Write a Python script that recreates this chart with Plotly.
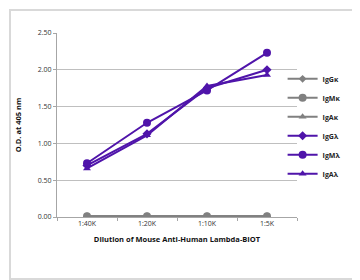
import plotly.graph_objects as go

categories = ["1:40K", "1:20K", "1:10K", "1:5K"]
series_names = ["IgGκ", "IgMκ", "IgAκ", "IgGλ", "IgMλ", "IgAλ"]
igg_k = [0.01, 0.01, 0.01, 0.01]
igm_k = [0.01, 0.01, 0.01, 0.01]
iga_k = [0.01, 0.01, 0.01, 0.01]
igg_l = [0.70, 1.13, 1.75, 2.00]
igm_l = [0.73, 1.28, 1.72, 2.23]
iga_l = [0.66, 1.11, 1.78, 1.93]
y_ticks = [0, 0.5, 1.0, 1.5, 2.0, 2.5]

GRAY = "#808080"
PURPLE = "#4f14aa"

fig = go.Figure()
specs = [
    (igg_k, GRAY, "diamond", 6),
    (igm_k, GRAY, "circle", 8),
    (iga_k, GRAY, "triangle-up", 7),
    (igg_l, PURPLE, "diamond", 7),
    (igm_l, PURPLE, "circle", 8),
    (iga_l, PURPLE, "triangle-up", 7),
]
for name, (vals, col, sym, sz) in zip(series_names, specs):
    fig.add_trace(go.Scatter(
        x=categories, y=vals, name="<b>" + name + "</b>", mode="lines+markers",
        line=dict(color=col, width=2),
        marker=dict(color=col, symbol=sym, size=sz),
    ))

L, T, W, H = 49, 25, 240, 184
fig.update_layout(
    width=360, height=280,
    margin=dict(l=L, r=360 - L - W, t=T, b=280 - T - H, autoexpand=False),
    paper_bgcolor="white", plot_bgcolor="white",
    font=dict(family="Open Sans, Liberation Sans, sans-serif", size=7, color="#333333"),
    showlegend=True,
    legend=dict(xref="paper", yref="paper", x=0.94, xanchor="left",
                y=0.83, yanchor="top",
                font=dict(size=7, color="#222222", family="Open Sans, sans-serif"),
                itemwidth=30, tracegroupgap=0, bgcolor="rgba(0,0,0,0)"),
    xaxis=dict(
        type="category", range=[-0.5, 3.5], automargin=False,
        showline=True, linecolor="#a6a6a6", linewidth=1,
        ticks="outside", tickson="boundaries", ticklen=3, tickcolor="#a6a6a6",
        showgrid=False,
        title=dict(text="<b>Dilution of Mouse Anti-Human Lambda-BIOT</b>", standoff=9,
                   font=dict(size=7.5, color="#111111")),
    ),
    yaxis=dict(
        range=[0, 2.5], tickvals=y_ticks, tickformat=".2f", automargin=False,
        showline=True, linecolor="#a6a6a6", linewidth=1,
        ticks="outside", ticklen=3, tickcolor="#a6a6a6",
        showgrid=True, gridcolor="#bfbfbf", gridwidth=1, zeroline=False,
        title=dict(text="<b>O.D. at 405 nm</b>",
                   font=dict(size=7.5, color="#111111")),
    ),
    shapes=[dict(type="rect", xref="paper", yref="paper",
                 x0=(2 - L) / W, x1=1.5, y0=-62 / H, y1=1 + (T - 2) / H,
                 line=dict(color="#d9d9d9", width=2), fillcolor="rgba(0,0,0,0)", layer="below")],
)

fig.write_html("out.html")
